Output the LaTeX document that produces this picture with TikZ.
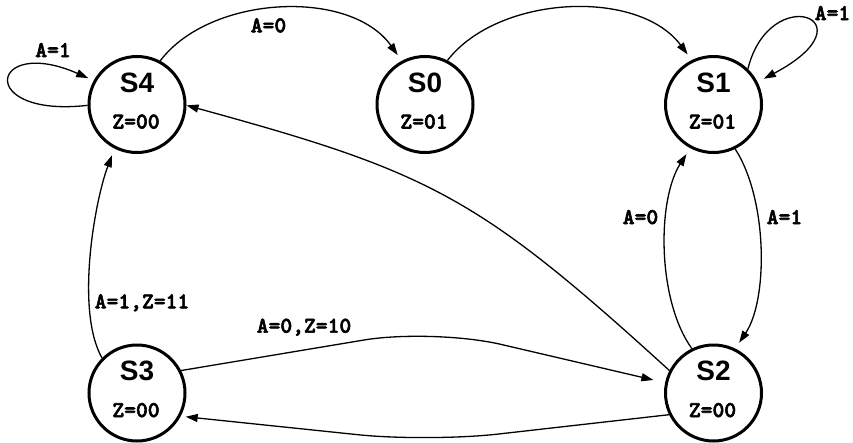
\documentclass[tikz,border=0pt]{standalone}
\usepackage{fontspec}
\setmainfont{Liberation Sans}
\newfontfamily\lblfont[FakeBold=2.5]{lmmonolt10-bold.otf}
\usetikzlibrary{arrows.meta}
\begin{document}
\begin{tikzpicture}[x=1pt,y=-1pt,
  state/.style={circle, draw, line width=3pt, minimum size=96pt, inner sep=0pt},
  sname/.style={anchor=base, font=\fontsize{28}{28}\selectfont\bfseries},
  sout/.style={anchor=base, font=\fontsize{22.5}{22.5}\selectfont\lblfont},
  elabel/.style={anchor=base, font=\fontsize{22.5}{22.5}\selectfont\lblfont},
  edge/.style={line width=1.3pt, -{Triangle[length=12pt,width=8pt]}},
]
\useasboundingbox (0,0) rectangle (853,442);

% states
\node[state] (s4) at (137,104.5) {};
\node[state] (s0) at (425,104.5) {};
\node[state] (s1) at (713.5,104.5) {};
\node[state] (s3) at (137,393) {};
\node[state] (s2) at (713.5,393) {};

\node[sname] (s4n) at (137,92) {S4};
\node[sout]  (s4z) at (136,128.5) {Z=00};
\node[sname] (s0n) at (425,92) {S0};
\node[sout]  (s0z) at (424,128.5) {Z=01};
\node[sname] (s1n) at (713.5,92) {S1};
\node[sout]  (s1z) at (712.5,128.5) {Z=01};
\node[sname] (s3n) at (137,380.5) {S3};
\node[sout]  (s3z) at (136,417) {Z=00};
\node[sname] (s2n) at (713.5,380.5) {S2};
\node[sout]  (s2z) at (712.5,417) {Z=00};

% transitions
\draw[edge, shorten >=6pt] (s4.181) .. controls (-25,118) and (-10,35) .. (s4.151);
\draw[edge, shorten >=7pt] (s4.62) .. controls (210,-5) and (350,-12) .. (s0.118);
\draw[edge, shorten >=7pt] (s0.63) .. controls (498,-5) and (638,-12) .. (s1.116);
\draw[edge, shorten >=7pt] (s1.46) .. controls (770,-20) and (875,20) .. (s1.27);
\draw[edge, shorten >=7pt] (s1.296) .. controls (768,200) and (768,300) .. (s2.64);
\draw[edge, shorten >=7pt] (s2.116) .. controls (657,300) and (657,200) .. (s1.242);
\draw[edge] (s2.153) .. controls (478,196) and (430,172) .. (s4.359);
\draw[edge, shorten >=7pt] (s3.135) .. controls (75,310) and (95,200) .. (s4.243);
\draw[edge, shorten >=12pt, rounded corners=70pt] (s3.27) -- (433,328.5) -- (s2.168);
\draw[edge, shorten >=5pt, rounded corners=70pt] (s2.206) -- (428,442) -- (s3.332);

% labels
\node[elabel] (l1) at (53,57) {A=1};
\node[elabel] (l2) at (268.5,32.3) {A=0};
\node[elabel] (l3) at (832.5,20) {A=1};
\node[elabel] (l4) at (640.5,224) {A=0};
\node[elabel] (l5) at (784.5,224) {A=1};
\node[elabel] (l6) at (142,308.3) {A=1,Z=11};
\node[elabel] (l7) at (304,332.7) {A=0,Z=10};
\end{tikzpicture}
\end{document}
